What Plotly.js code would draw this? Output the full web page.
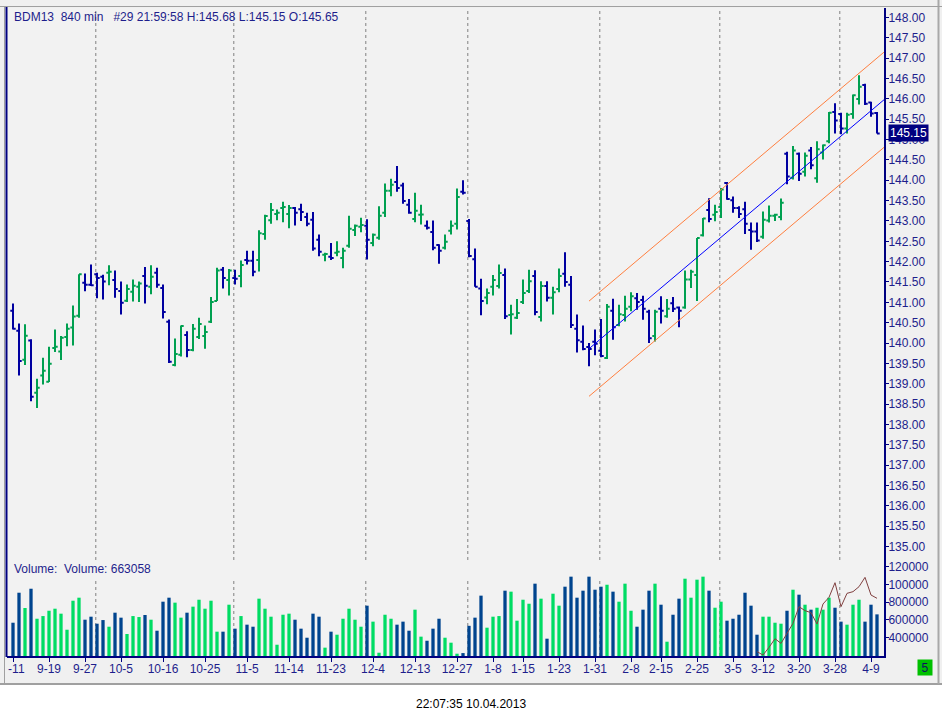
<!DOCTYPE html>
<html>
<head>
<meta charset="utf-8">
<script src="https://cdn.plot.ly/plotly-3.0.1.min.js"></script>
<style>html,body{margin:0;padding:0;background:#fff;}#chart{width:942px;height:720px;}</style>
</head>
<body>
<div id="chart"></div>
<script>
// ---------------- DATA ----------------
const symbol = 'BDM13';
const period = '840 min';
const lastBarInfo = '#29 21:59:58';
const stampText = '22:07:35 10.04.2013';

const openP = [
140.79,140.30,139.59,140.06,138.78,139.20,139.05,139.88,139.79,140.15,
140.38,140.67,141.48,141.43,141.69,141.63,141.73,141.55,141.28,141.04,
141.26,141.38,141.65,141.38,141.73,141.35,140.52,139.46,139.71,140.20,
139.83,140.15,140.17,140.52,141.03,141.80,141.55,141.60,141.65,142.04,
142.02,142.04,142.68,143.02,143.17,143.32,143.17,143.32,143.29,143.10,
143.03,142.54,142.17,142.12,142.22,142.09,142.39,142.78,142.86,142.88,
142.46,142.59,143.20,143.74,143.96,143.87,143.40,143.05,143.15,142.88,
142.73,142.41,142.34,142.76,142.93,143.72,143.00,142.06,141.34,141.12,
141.38,141.40,141.67,140.69,140.62,141.01,141.28,141.65,140.64,141.40,
141.11,141.33,141.70,141.43,140.35,140.03,139.90,140.03,139.81,139.63,
140.79,140.44,140.69,140.89,141.10,141.06,140.77,140.17,140.84,140.66,
140.98,140.87,140.87,141.56,141.67,142.65,143.27,143.15,143.34,143.93,
143.51,143.32,143.29,142.78,142.74,142.61,143.01,143.13,143.10,144.65,
144.06,144.65,144.21,144.73,144.05,144.68,144.96,145.68,145.63,145.27,
145.63,146.00,146.34,145.91,145.65];
const highP = [
140.97,140.48,140.46,140.09,139.12,139.64,139.91,140.33,140.17,140.48,
140.92,141.69,141.71,141.93,141.73,141.68,141.91,141.78,141.51,141.44,
141.56,141.51,141.87,141.91,141.85,141.44,140.58,140.11,140.43,140.29,
140.47,140.62,140.43,141.13,141.85,141.87,141.82,141.80,142.03,142.27,
142.27,142.77,143.15,143.44,143.28,143.47,143.39,143.34,143.42,143.20,
143.22,142.67,142.22,142.46,142.50,142.34,143.13,142.91,143.08,143.04,
142.69,143.36,143.92,144.04,144.35,143.94,143.54,143.69,143.40,143.01,
143.01,142.43,142.67,143.01,143.80,144.00,143.05,142.32,141.58,141.34,
141.67,141.93,141.83,140.94,141.08,141.56,141.80,141.79,141.52,141.52,
141.38,141.83,142.23,141.65,140.70,140.43,140.00,140.33,140.59,140.96,
141.09,140.94,141.16,141.25,141.23,141.16,140.82,140.82,141.15,141.08,
141.13,140.90,141.78,141.80,142.58,143.07,143.56,143.40,143.81,143.96,
143.60,143.36,143.47,142.96,142.96,143.23,143.38,143.18,143.55,144.70,
144.84,144.68,144.68,144.82,144.96,144.88,145.68,145.89,145.66,145.66,
146.11,146.58,146.37,145.93,145.68];
const lowP = [
140.33,139.20,139.46,138.57,138.40,138.98,139.04,139.78,139.58,139.92,
139.94,140.62,141.27,141.40,141.10,141.07,141.42,141.11,140.70,141.01,
141.02,141.01,140.97,141.20,141.36,140.60,139.51,139.43,139.67,139.65,
139.80,140.10,139.86,140.49,141.03,141.34,141.17,141.44,141.37,141.93,
141.64,141.76,142.54,142.93,143.02,142.97,142.82,142.89,143.00,142.87,
142.27,142.13,142.01,142.04,142.13,141.84,142.34,142.63,142.72,142.05,
142.38,142.54,143.10,143.61,143.72,143.42,143.18,142.97,142.91,142.79,
142.28,141.95,142.30,142.67,142.79,143.65,142.11,141.38,140.68,140.95,
141.17,141.34,140.59,140.21,140.59,140.96,141.23,140.68,140.53,141.02,
140.70,141.25,141.38,140.37,139.77,139.82,139.43,139.70,139.65,139.61,
140.08,140.41,140.53,140.78,140.82,140.57,140.00,140.04,140.48,140.62,
140.76,140.39,140.84,141.35,141.03,142.62,142.97,142.99,143.07,143.52,
143.20,143.07,142.68,142.29,142.48,142.56,142.96,143.00,143.02,143.90,
144.02,143.98,144.09,144.27,143.94,144.51,144.91,145.15,145.13,145.15,
145.51,145.86,145.85,145.56,145.15];
const closeP = [
140.35,139.56,140.18,138.68,138.90,139.32,139.49,139.91,140.13,140.35,
140.65,141.69,141.43,141.42,141.60,141.51,141.75,141.33,140.99,141.33,
141.41,141.46,141.41,141.63,141.43,140.76,139.54,139.73,140.42,139.83,
140.35,140.47,140.27,141.01,141.78,141.60,141.78,141.58,141.92,142.02,
141.75,142.70,143.12,143.27,143.20,143.34,143.32,143.20,143.22,142.93,
142.32,142.24,142.19,142.09,142.24,142.27,142.81,142.88,142.90,142.54,
142.66,143.13,143.74,143.89,143.81,143.49,143.20,143.25,143.16,142.83,
142.34,142.27,142.49,142.88,143.59,143.69,142.14,141.38,141.03,141.23,
141.55,141.72,140.66,140.71,140.74,141.23,141.52,140.76,141.40,141.11,
141.25,141.65,141.50,140.44,140.07,139.85,139.85,139.98,139.68,140.89,
140.39,140.71,140.84,141.15,141.01,140.84,140.12,140.77,140.79,140.84,
140.84,140.79,141.56,141.75,142.58,143.06,143.05,143.22,143.77,143.54,
143.32,143.17,142.93,142.74,142.52,143.03,143.13,143.15,143.45,144.09,
144.73,144.16,144.60,144.37,144.76,144.86,145.66,145.47,145.27,145.61,
146.09,146.30,145.88,145.64,145.15];
const volume = [
569000,907000,735000,952000,614000,644000,704000,727000,671000,490000,
817000,851000,603000,637000,558000,599000,524000,682000,626000,442000,
644000,633000,656000,603000,479000,806000,851000,795000,626000,682000,
750000,828000,727000,817000,468000,468000,772000,502000,644000,547000,
524000,840000,727000,637000,321000,659000,671000,603000,502000,400000,
671000,637000,288000,468000,434000,614000,727000,603000,524000,761000,
581000,231000,659000,614000,547000,581000,479000,716000,412000,366000,
502000,614000,400000,344000,220000,227000,534000,626000,874000,513000,
637000,644000,930000,919000,592000,828000,783000,1009000,840000,389000,
896000,761000,975000,1088000,851000,930000,1088000,941000,975000,997000,
919000,806000,1009000,704000,524000,716000,930000,1009000,772000,355000,
659000,840000,1065000,851000,1054000,1088000,930000,738000,806000,592000,
614000,659000,907000,761000,434000,637000,637000,569000,558000,704000,
941000,885000,772000,716000,738000,716000,851000,738000,581000,547000,
772000,828000,581000,772000,663058];
// secondary line in volume pane (starts at bar 124)
const lineStart = 124;
const lineVals = [243000,205000,291000,389000,336000,449000,562000,750000,705000,682000,
554000,780000,855000,1020000,750000,900000,919000,975000,1080000,881000,844000];
// regression channel (bar index, mid value) and half width
const chanIdx = [96, 145.5];
const chanMid = [139.86, 146.02];
const chanHalf = 1.17;
// x tick labels
const tickIdx = [0,6,12,18,25,32,39,46,53,60,67,74,80,85,91,97,103,108,114,120,125,131,137,143];
const tickLabels = ['\u00a0\u00a0-11','9-19','9-27','10-5','10-16','10-25','11-5','11-14','11-23','12-4','12-13','12-27',
'1-8','1-15','1-23','1-31','2-8','2-15','2-25','3-5','3-12','3-20','3-28','4-9'];
// first bar of each month (dotted separators)
const monthStart = [14,37,59,76,98,118,138];
// price and volume axis ticks
const priceTicks = [135,135.5,136,136.5,137,137.5,138,138.5,139,139.5,140,140.5,141,141.5,142,142.5,143,143.5,144,144.5,145,145.5,146,146.5,147,147.5,148];
const volTicks = [400000,600000,800000,1000000,1200000];
const volTickText = ['400000','600000','800000','100000','120000'];

// ---------------- BUILD ----------------
const n = closeP.length;
const idx = closeP.map((_, i) => i);
const last = n - 1;
const NAVY = '#000080';
const TXT = '#1e1e8c';
const FONT = 'Liberation Sans, Arial, sans-serif';
const FS = 12;
const volColors = idx.map(i => closeP[i] > openP[i] ? '#00dc64' : '#00448e');

// pixel helpers for layout-only decorations
const PL = 7, PR = 884, PT = 8, PB = 656;
const px = x => (x - PL) / (PR - PL);
const py = y => (PB - y) / (PB - PT);
const priceDomBottom = py(560);

const traces = [
  {
    type: 'ohlc', x: idx, open: openP, high: highP, low: lowP, close: closeP,
    xaxis: 'x', yaxis: 'y', tickwidth: 0.45, hoverinfo: 'skip',
    increasing: {line: {color: '#00a050', width: 2}},
    decreasing: {line: {color: '#0000a0', width: 2}}
  },
  {
    type: 'bar', x: idx, y: volume, width: 0.55, xaxis: 'x', yaxis: 'y2',
    marker: {color: volColors, line: {width: 0}}, hoverinfo: 'skip'
  },
  {
    type: 'scatter', mode: 'lines', x: lineVals.map((_, k) => lineStart + k), y: lineVals,
    xaxis: 'x', yaxis: 'y2', line: {color: '#804040', width: 1}, hoverinfo: 'skip'
  },
  {
    type: 'scatter', mode: 'lines', x: chanIdx, y: chanMid, xaxis: 'x', yaxis: 'y',
    line: {color: '#0000ff', width: 1}, hoverinfo: 'skip'
  },
  {
    type: 'scatter', mode: 'lines', x: chanIdx, y: chanMid.map(v => v + chanHalf), xaxis: 'x', yaxis: 'y',
    line: {color: '#ff7f3f', width: 1}, hoverinfo: 'skip'
  },
  {
    type: 'scatter', mode: 'lines', x: chanIdx, y: chanMid.map(v => v - chanHalf), xaxis: 'x', yaxis: 'y',
    line: {color: '#ff7f3f', width: 1}, hoverinfo: 'skip'
  }
];

const shapes = [];
// white area below the window frame
shapes.push({type: 'rect', xref: 'paper', yref: 'paper', x0: px(-5), x1: px(950), y0: py(685), y1: py(730),
  fillcolor: '#ffffff', line: {width: 0}, layer: 'below'});
// frame borders
shapes.push({type: 'line', xref: 'paper', yref: 'paper', x0: px(0), x1: px(942), y0: py(684), y1: py(684),
  line: {color: '#a0a0a0', width: 2}});
shapes.push({type: 'line', xref: 'paper', yref: 'paper', x0: px(938.5), x1: px(938.5), y0: py(0), y1: py(684),
  line: {color: '#a8a8a8', width: 2}});
shapes.push({type: 'line', xref: 'paper', yref: 'paper', x0: px(0), x1: px(942), y0: py(6.5), y1: py(6.5),
  line: {color: '#a0a0a0', width: 1}});
shapes.push({type: 'line', xref: 'paper', yref: 'paper', x0: px(4.5), x1: px(4.5), y0: py(6), y1: py(684),
  line: {color: '#a0a0a0', width: 1}});
shapes.push({type: 'line', xref: 'paper', yref: 'paper', x0: px(6.5), x1: px(6.5), y0: py(7), y1: py(657),
  line: {color: NAVY, width: 2}});
// month separators
monthStart.forEach(m => {
  shapes.push({type: 'line', xref: 'x', yref: 'paper', x0: m - 0.2, x1: m - 0.2, y0: priceDomBottom, y1: 1,
    line: {color: '#808080', width: 1, dash: 'dot'}, layer: 'below'});
  shapes.push({type: 'line', xref: 'x', yref: 'paper', x0: m - 0.2, x1: m - 0.2, y0: 0, y1: py(578),
    line: {color: '#808080', width: 1, dash: 'dot'}, layer: 'below'});
});

const nb = '\u00a0';
const headerText = symbol + nb + nb + period + nb + nb + nb + lastBarInfo +
  ' H:' + highP[last].toFixed(2) + ' L:' + lowP[last].toFixed(2) + ' O:' + openP[last].toFixed(2);
const volText = 'Volume:' + nb + nb + 'Volume: ' + volume[last];

const annotations = [
  {xref: 'paper', yref: 'paper', x: px(12), y: py(17), xanchor: 'left', yanchor: 'middle', showarrow: false,
   text: headerText, font: {family: FONT, size: FS, color: TXT}},
  {xref: 'paper', yref: 'paper', x: px(12), y: py(569), xanchor: 'left', yanchor: 'middle', showarrow: false,
   text: volText, font: {family: FONT, size: FS, color: TXT}},
  {xref: 'paper', yref: 'y', x: px(888), y: closeP[last], xanchor: 'left', yanchor: 'middle', showarrow: false,
   text: closeP[last].toFixed(2), bgcolor: '#000080', borderpad: 1, font: {family: FONT, size: FS, color: '#ffffff'}},
  {xref: 'paper', yref: 'paper', x: px(925), y: py(667.5), xanchor: 'center', yanchor: 'middle', showarrow: false,
   text: '5', bgcolor: '#00c000', borderpad: 1, width: 12, height: 13, font: {family: FONT, size: FS, color: '#101060'}},
  {xref: 'paper', yref: 'paper', x: px(471), y: py(704), xanchor: 'center', yanchor: 'middle', showarrow: false,
   text: stampText, font: {family: FONT, size: FS, color: '#000000'}}
];

const axisCommon = {
  ticks: 'outside', ticklen: 3, tickcolor: NAVY, tickwidth: 1, showgrid: false, zeroline: false,
  showline: true, linecolor: NAVY, linewidth: 2, fixedrange: true,
  tickfont: {family: FONT, size: FS, color: TXT}
};

const layout = {
  width: 942, height: 720,
  margin: {l: PL, r: 942 - PR, t: PT, b: 720 - PB, pad: 0},
  paper_bgcolor: '#f0f0f0', plot_bgcolor: '#f2f2f2',
  showlegend: false, dragmode: false,
  font: {family: FONT, size: FS, color: TXT},
  xaxis: Object.assign({}, axisCommon, {
    range: [-1, (PR - 13) / 6], anchor: 'y2',
    tickmode: 'array', tickvals: tickIdx, ticktext: tickLabels, tickangle: 0,
    ticklen: 4, ticklabelstandoff: -3,
    rangeslider: {visible: false}
  }),
  yaxis: Object.assign({}, axisCommon, {
    domain: [priceDomBottom, 1], side: 'right', anchor: 'x',
    range: [148 - (560 - 17.5) / 40.69, 148 + (17.5 - PT) / 40.69],
    tickmode: 'array', tickvals: priceTicks, ticktext: priceTicks.map(v => v.toFixed(2)),
    ticklabelstandoff: -3
  }),
  yaxis2: Object.assign({}, axisCommon, {
    domain: [0, priceDomBottom], side: 'right', anchor: 'x',
    range: [194000, 194000 + (656 - 560) * 11268],
    tickmode: 'array', tickvals: volTicks, ticktext: volTickText,
    ticklabelstandoff: -3
  }),
  shapes: shapes,
  annotations: annotations
};

Plotly.newPlot('chart', traces, layout, {staticPlot: true, displayModeBar: false});
</script>
</body>
</html>
